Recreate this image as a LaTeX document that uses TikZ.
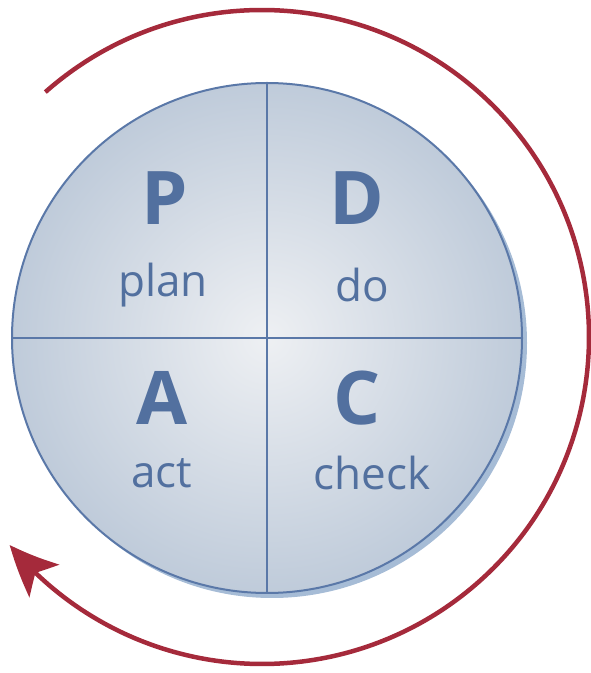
\documentclass[tikz,border=0pt]{standalone}
\usepackage{fontspec}
\setmainfont{Open Sans}
\usetikzlibrary{arrows.meta,bending,calc}
\definecolor{pdred}{HTML}{A52A3B}
\definecolor{pdblue}{HTML}{5A78A8}
\definecolor{pdtext}{HTML}{52709F}
\definecolor{pdshadow}{HTML}{A6BCD6}
\definecolor{pdin}{HTML}{EEF0F3}
\definecolor{pdout}{HTML}{BFCBDA}
\tikzset{
  big/.style={text=pdtext, font=\fontsize{74}{74}\selectfont\bfseries, inner sep=0pt},
  small/.style={text=pdtext, font=\fontsize{44}{44}\selectfont, inner sep=0pt},
  cycle/.style={draw=pdred, line width=4.5pt, -{Stealth[length=50pt,width=44pt,inset=12pt,bend]}},
  divider/.style={draw=pdblue, line width=2pt}
}
\begin{document}
\begin{tikzpicture}[x=1pt,y=1pt]
\useasboundingbox (0,0) rectangle (590,673);
% shadow
\fill[pdshadow] (272,330) circle (255);
% disc
\shade[inner color=pdin, outer color=pdout] (267,335) circle (255);
\draw[pdblue, line width=2pt] (267,335) circle (255);
\coordinate (top) at (267,590);
\coordinate (bot) at (267,80);
\coordinate (lft) at (12,335);
\coordinate (rgt) at (522,335);
\draw[divider] (top) -- (bot);
\draw[divider] (lft) -- (rgt);
% labels
\node[big] (P) at (165,475) {P};
\node[small] (plan) at (163,388) {plan};
\node[big] (D) at (357,475) {D};
\node[small] (do) at (362,388) {do};
\node[big] (A) at (162,275) {A};
\node[small] (act) at (162,200) {act};
\node[big] (C) at (357,275) {C};
\node[small] (check) at (372,200) {check};
% cycle arrow
\coordinate (ctr) at (262,336);
\coordinate (s) at ($(ctr)+(131.5:327)$);
\draw[cycle] (s) arc[start angle=131.5, end angle=-140.5, radius=327];
\end{tikzpicture}
\end{document}
